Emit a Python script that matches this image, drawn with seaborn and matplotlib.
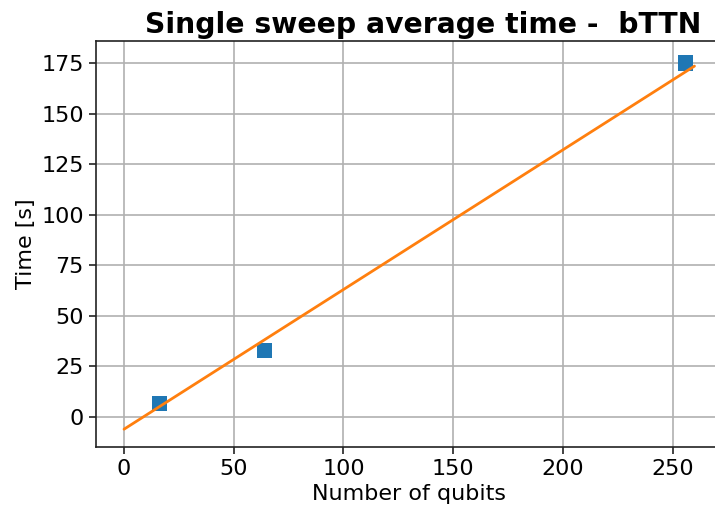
import matplotlib
matplotlib.use("Agg")
import matplotlib.pyplot as plt
import seaborn as sns
import pandas as pd

qubits = [16, 64, 256]
times = [6.8, 33.0, 175.0]
fit_x = [0, 260]
fit_y = [-6.0, 173.5]

sns.set_style("ticks")
plt.rcParams['font.family'] = ['DejaVu Sans']
plt.rcParams['text.color'] = 'black'
plt.rcParams['axes.labelcolor'] = 'black'

fig = plt.figure(figsize=(7.15, 5.14), dpi=100)
ax = fig.add_axes([95.5/715, 1 - 447/514, (723 - 95.5)/715, (447 - 41)/514])

pts = pd.DataFrame({"x": qubits, "y": times})
fit = pd.DataFrame({"x": fit_x, "y": fit_y})

sns.scatterplot(data=pts, x="x", y="y", marker="s", s=120, color="#1f77b4",
                edgecolor="none", ax=ax, zorder=3)
sns.lineplot(data=fit, x="x", y="y", color="#ff7f0e", linewidth=2, ax=ax, zorder=4)

ax.set_xlim(-13, 273)
ax.set_ylim(-14.8, 185.9)
ax.set_xticks([0, 50, 100, 150, 200, 250])
ax.set_yticks([0, 25, 50, 75, 100, 125, 150, 175])
ax.grid(True, color="#b0b0b0", linewidth=1.2)
ax.set_axisbelow(True)
for s in ax.spines.values():
    s.set_visible(True)
    s.set_color("#222222")
    s.set_linewidth(1.2)
ax.tick_params(labelsize=16, length=5, width=1.2, colors="#222222", labelcolor="black")
ax.set_xlabel("Number of qubits", fontsize=16, color="black")
ax.set_ylabel("Time [s]", fontsize=16, color="black")
t = ax.set_title("Single sweep average time -  bTTN", fontsize=20.3, fontweight="bold", color="black")
t.set_x((423.5 - 95.5) / (723 - 95.5))

fig.savefig("out.png", dpi=100)
